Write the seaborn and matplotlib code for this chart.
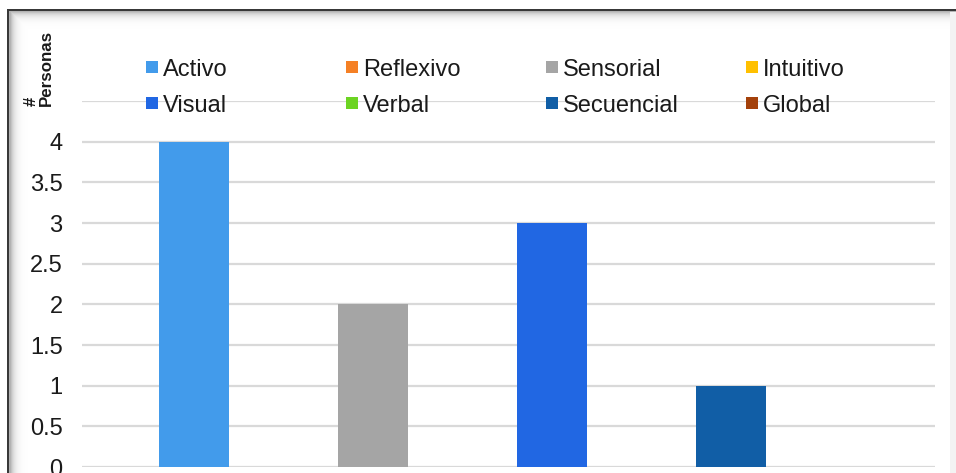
import numpy as np
import pandas as pd
import matplotlib
matplotlib.use("Agg")
import matplotlib.pyplot as plt
from matplotlib.patches import Rectangle
import seaborn as sns

# Learning-style counts
estilos = ["Activo", "Reflexivo", "Sensorial", "Intuitivo",
           "Visual", "Verbal", "Secuencial", "Global"]
personas = [4, 0, 2, 0, 3, 0, 1, 0]
colores = ["#429BEB", "#F58025", "#A5A5A5", "#FFC000",
           "#2167E3", "#6CD422", "#115EA6", "#A4410B"]
y_ticks = [0, 0.5, 1, 1.5, 2, 2.5, 3, 3.5, 4]
y_tick_labels = ["0", "0.5", "1", "1.5", "2", "2.5", "3", "3.5", "4"]

sns.set_theme(style="white")
plt.rcParams["font.family"] = ["Liberation Sans", "DejaVu Sans"]

W, H = 956, 473
fig = plt.figure(figsize=(W / 100, H / 100), dpi=100)
fig.patch.set_facecolor("white")

# Window frame with soft inner shadow
bg = fig.add_axes([0, 0, 1, 1], zorder=-5)
yy, xx = np.mgrid[0:H, 0:W]
img = np.ones((H, W))
shade = np.maximum(np.exp(-np.clip(yy - 12, 0, None) / 4.0),
                   np.exp(-np.clip(xx - 10, 0, None) / 4.0)) * 0.30
img = img - shade
img[(yy >= 10) & (yy < 12) & (xx >= 7)] = 0.22
img[(xx >= 7) & (xx < 9) & (yy >= 10)] = 0.22
img[(yy < 10)] = 1.0
img[(xx < 7)] = 1.0
img[(xx >= 950) & (yy >= 13)] = 0.95
bg.imshow(img, cmap="gray", vmin=0, vmax=1, aspect="auto",
          interpolation="nearest", extent=[0, W, H, 0])
bg.set_axis_off()

left, right = 82 / W, 935 / W
bottom, top = (H - 467) / H, (H - 101) / H
ax = fig.add_axes([left, bottom, right - left, top - bottom])
ax.set_facecolor("none")

df = pd.DataFrame({"estilo": estilos, "personas": personas})
sns.barplot(data=df, x="estilo", y="personas", hue="estilo",
            order=estilos, hue_order=estilos, palette=colores,
            width=0.78, dodge=False, legend=False, ax=ax,
            saturation=1, linewidth=0, zorder=3)

ax.set_xlim(-1.251, 8.279)
ax.set_ylim(0, 4.5)
ax.set_yticks(y_ticks)
ax.set_yticklabels(y_tick_labels, fontsize=17, color="#1a1a1a")
ax.set_xticks([])
ax.set_xlabel("")
ax.set_ylabel("")
ax.tick_params(axis="y", length=0, pad=14)
for s in ax.spines.values():
    s.set_visible(False)
for g in list(y_ticks) + [4.5]:
    ax.axhline(g, color="#D9D9D9", lw=1.6, zorder=1)

# Axis title
fig.text(39 / W, 1 - 106 / H, "#\nPersonas", rotation=90, ha="center",
         va="bottom", multialignment="left", fontsize=12.2,
         fontweight="bold", color="#1a1a1a", linespacing=1.0)

# Legend: two rows of four entries
col_x = [146, 346, 546, 746]
row_y = [67, 103]
for i, (nombre, c) in enumerate(zip(estilos, colores)):
    r, k = divmod(i, 4)
    x0, yc = col_x[k], row_y[r]
    fig.patches.append(Rectangle((x0 / W, 1 - (yc + 6) / H), 12 / W, 12 / H,
                                 transform=fig.transFigure, facecolor=c,
                                 edgecolor="none", zorder=5))
    fig.text((x0 + 17) / W, 1 - yc / H, nombre, fontsize=17,
             color="#1a1a1a", ha="left", va="center_baseline", zorder=6)

fig.savefig("out.png", dpi=100, facecolor=fig.get_facecolor())
